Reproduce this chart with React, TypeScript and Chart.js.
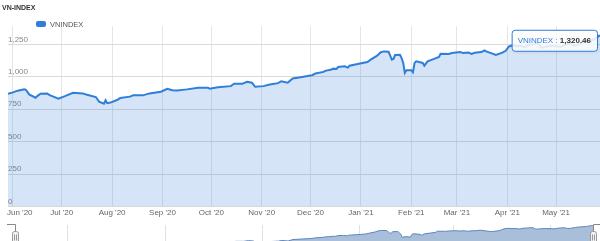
import React, { useEffect, useRef } from 'react';
import { Chart, registerables } from 'chart.js';

Chart.register(...registerables);

const TITLE = 'VN-INDEX';
const SERIES_NAME = 'VNINDEX';
const SERIES_COLOR = '#2f7ed8';
const FONT = "'Liberation Sans', Arial, sans-serif";

const dates = [
  '2020-05-29', '2020-06-01', '2020-06-04', '2020-06-08', '2020-06-09', '2020-06-11', '2020-06-15', '2020-06-16',
  '2020-06-18', '2020-06-22', '2020-06-24', '2020-06-29', '2020-07-03', '2020-07-08', '2020-07-14', '2020-07-16',
  '2020-07-22', '2020-07-24', '2020-07-27', '2020-07-28', '2020-07-29', '2020-07-31', '2020-08-04', '2020-08-06',
  '2020-08-12', '2020-08-14', '2020-08-20', '2020-08-24', '2020-08-31', '2020-09-04', '2020-09-07', '2020-09-10',
  '2020-09-16', '2020-09-23', '2020-09-29', '2020-09-30', '2020-10-05', '2020-10-13', '2020-10-15', '2020-10-20',
  '2020-10-23', '2020-10-26', '2020-10-28', '2020-11-02', '2020-11-06', '2020-11-11', '2020-11-13', '2020-11-17',
  '2020-11-20', '2020-11-25', '2020-11-30', '2020-12-02', '2020-12-04', '2020-12-09', '2020-12-10', '2020-12-14',
  '2020-12-15', '2020-12-17', '2020-12-18', '2020-12-22', '2020-12-24', '2020-12-25', '2020-12-30', '2021-01-05',
  '2021-01-07', '2021-01-11', '2021-01-13', '2021-01-15', '2021-01-18', '2021-01-19', '2021-01-20', '2021-01-21',
  '2021-01-22', '2021-01-25', '2021-01-26', '2021-01-27', '2021-01-28', '2021-01-29', '2021-02-01', '2021-02-02',
  '2021-02-03', '2021-02-04', '2021-02-08', '2021-02-09', '2021-02-11', '2021-02-15', '2021-02-18', '2021-02-19',
  '2021-02-24', '2021-02-26', '2021-03-03', '2021-03-05', '2021-03-08', '2021-03-10', '2021-03-12', '2021-03-16',
  '2021-03-18', '2021-03-19', '2021-03-22', '2021-03-25', '2021-03-29', '2021-03-31', '2021-04-02', '2021-04-05',
  '2021-04-07', '2021-04-09', '2021-04-12', '2021-04-14', '2021-04-16', '2021-04-20', '2021-04-22', '2021-04-26',
  '2021-04-28', '2021-05-04', '2021-05-06', '2021-05-10', '2021-05-12', '2021-05-14', '2021-05-17', '2021-05-19',
  '2021-05-21', '2021-05-24', '2021-05-26', '2021-05-27', '2021-05-28',
];

const values = [
  868, 880, 893, 903, 900, 864, 839, 851,
  870, 871, 857, 832, 851, 877, 872, 864,
  844, 808, 793, 819, 796, 801, 821, 836,
  847, 857, 857, 872, 885, 908, 897, 895,
  903, 916, 916, 908, 920, 928, 946, 946,
  962, 954, 923, 928, 941, 951, 966, 954,
  987, 997, 1008, 1012, 1025, 1038, 1046, 1056,
  1063, 1061, 1076, 1081, 1071, 1086, 1099, 1114,
  1132, 1163, 1188, 1196, 1193, 1163, 1132, 1138,
  1168, 1170, 1145, 1107, 1030, 1050, 1050, 1035,
  1107, 1119, 1107, 1086, 1119, 1138, 1153, 1178,
  1176, 1183, 1191, 1183, 1188, 1176, 1186, 1191,
  1203, 1196, 1183, 1168, 1186, 1201, 1234, 1245,
  1236, 1240, 1228, 1246, 1250, 1260, 1225, 1236,
  1240, 1232, 1248, 1258, 1240, 1245, 1265, 1274,
  1278, 1288, 1300, 1312, 1320.46,
];

const monthTickDates = [
  '2020-06-01', '2020-07-01', '2020-08-01', '2020-09-01', '2020-10-01', '2020-11-01',
  '2020-12-01', '2021-01-01', '2021-02-01', '2021-03-01', '2021-04-01', '2021-05-01',
];
const monthTickLabels = [
  "Jun '20", "Jul '20", "Aug '20", "Sep '20", "Oct '20", "Nov '20",
  "Dec '20", "Jan '21", "Feb '21", "Mar '21", "Apr '21", "May '21",
];
const navigatorTickDates = ['2020-07-01', '2020-09-01', '2020-11-01', '2021-01-01', '2021-03-01', '2021-05-01'];

const Y_TICK_STEP = 250;
const Y_AXIS_MAX = 1392;

const BASE = Date.UTC(2020, 5, 1);
const dayOf = (s: string) => {
  const [y, m, d] = s.split('-').map(Number);
  return (Date.UTC(y, m - 1, d) - BASE) / 86400000;
};

const fmt = (v: number, digits = 0) =>
  v.toLocaleString('en-US', { minimumFractionDigits: digits, maximumFractionDigits: digits });

const headerPlugin = {
  id: 'header',
  afterDraw(chart: any) {
    const ctx = chart.ctx;
    ctx.save();
    ctx.textBaseline = 'middle';
    ctx.textAlign = 'left';
    ctx.fillStyle = '#333';
    ctx.font = `bold 7px ${FONT}`;
    ctx.fillText(TITLE, 2, 8.5);
    const ds = chart.data.datasets[0];
    ctx.fillStyle = ds.borderColor;
    ctx.beginPath();
    (ctx as any).roundRect(36, 21, 10, 6, 2);
    ctx.fill();
    ctx.fillStyle = '#555';
    ctx.font = `7.5px ${FONT}`;
    ctx.fillText(ds.label, 50, 24.5);
    ctx.restore();
  },
};

const firstLabelPlugin = {
  id: 'firstLabel',
  beforeDraw(chart: any) {
    const sc = chart.scales.x;
    const items = sc.getLabelItems();
    if (items && items.length) {
      items[0].options.textAlign = 'left';
      items[0].options.translation[0] = chart.chartArea.left - 1;
    }
  },
};

const tooltipPlugin = {
  id: 'lastTip',
  afterDraw(chart: any) {
    const meta = chart.getDatasetMeta(0);
    const pt = meta.data[meta.data.length - 1];
    if (!pt) return;
    const ctx = chart.ctx;
    const label = `${chart.data.datasets[0].label} : `;
    const valText = fmt(values[values.length - 1], 2);
    ctx.save();
    ctx.font = `8px ${FONT}`;
    const w1 = ctx.measureText(label).width;
    ctx.font = `bold 8px ${FONT}`;
    const w2 = ctx.measureText(valText).width;
    const padX = 6;
    const w = w1 + w2 + padX * 2;
    const h = 21;
    const right = pt.x - 3;
    const left = right - w;
    const top = pt.y - 5.5;
    ctx.shadowColor = 'rgba(0,0,0,0.12)';
    ctx.shadowBlur = 3;
    ctx.shadowOffsetX = 1;
    ctx.shadowOffsetY = 1;
    ctx.beginPath();
    (ctx as any).roundRect(left + 0.5, top + 0.5, w, h, 3);
    ctx.fillStyle = 'rgba(255,255,255,0.85)';
    ctx.fill();
    ctx.shadowColor = 'transparent';
    ctx.strokeStyle = SERIES_COLOR;
    ctx.lineWidth = 1;
    ctx.stroke();
    ctx.textBaseline = 'middle';
    ctx.textAlign = 'left';
    ctx.font = `8px ${FONT}`;
    ctx.fillStyle = SERIES_COLOR;
    ctx.fillText(label, left + padX, top + h / 2 + 0.5);
    ctx.font = `bold 8px ${FONT}`;
    ctx.fillStyle = '#333';
    ctx.fillText(valText, left + padX + w1, top + h / 2 + 0.5);
    ctx.restore();
  },
};

const navHandlesPlugin = {
  id: 'navHandles',
  afterDraw(chart: any) {
    const { left, right, top } = chart.chartArea;
    const ctx = chart.ctx;
    ctx.save();
    ctx.strokeStyle = '#888';
    ctx.lineWidth = 1;
    const yTop = top - 0.5;
    const hTop = yTop + 7;
    ctx.beginPath();
    ctx.moveTo(left - 8, yTop);
    ctx.lineTo(Math.round(left) + 0.5, yTop);
    ctx.lineTo(Math.round(left) + 0.5, hTop);
    ctx.moveTo(chart.width, yTop);
    ctx.lineTo(Math.round(right) + 0.5, yTop);
    ctx.lineTo(Math.round(right) + 0.5, hTop);
    ctx.stroke();
    for (const cx of [Math.round(left) + 0.5, Math.round(right) + 0.5]) {
      ctx.beginPath();
      (ctx as any).roundRect(cx - 3, hTop, 6, 14, 2);
      ctx.fillStyle = '#f2f2f2';
      ctx.fill();
      ctx.strokeStyle = '#999';
      ctx.stroke();
      ctx.beginPath();
      ctx.moveTo(cx - 1, hTop + 3);
      ctx.lineTo(cx - 1, hTop + 9);
      ctx.moveTo(cx + 1, hTop + 3);
      ctx.lineTo(cx + 1, hTop + 9);
      ctx.strokeStyle = '#999';
      ctx.stroke();
    }
    ctx.restore();
  },
};

export default function App() {
  const mainRef = useRef<HTMLCanvasElement | null>(null);
  const navRef = useRef<HTMLCanvasElement | null>(null);

  useEffect(() => {
    const pts = dates.map((d, i) => ({ x: dayOf(d), y: values[i] }));
    const xMin = dayOf(dates[0]);
    const xMax = dayOf(dates[dates.length - 1]);

    const main = new Chart(mainRef.current as HTMLCanvasElement, {
      type: 'line',
      data: {
        datasets: [
          {
            label: SERIES_NAME,
            data: pts,
            borderColor: SERIES_COLOR,
            backgroundColor: 'rgba(47,126,216,0.2)',
            fill: 'origin',
            borderWidth: 2,
            pointRadius: 0,
            tension: 0,
          },
        ],
      },
      options: {
        animation: false,
        responsive: false,
        maintainAspectRatio: false,
        events: [],
        layout: { padding: { top: 26, left: 8, right: 0, bottom: 0 } },
        plugins: { legend: { display: false }, title: { display: false }, tooltip: { enabled: false } },
        scales: {
          x: {
            type: 'linear',
            min: xMin,
            max: xMax,
            afterBuildTicks: (ax: any) => {
              ax.ticks = monthTickDates.map((d) => ({ value: dayOf(d) }));
            },
            afterFit: (ax: any) => {
              ax.paddingLeft = 0;
              ax.paddingRight = 0;
            },
            ticks: {
              autoSkip: false,
              maxRotation: 0,
              padding: 2,
              color: '#666',
              font: { size: 8, family: FONT },
              callback: (_v: any, i: number) => monthTickLabels[i],
            },
            grid: { color: '#e6e6e6', drawTicks: false },
            border: { display: false },
          },
          y: {
            min: 0,
            max: Y_AXIS_MAX,
            afterBuildTicks: (ax: any) => {
              ax.ticks = ax.ticks.filter((t: any) => t.value % Y_TICK_STEP === 0);
            },
            ticks: {
              stepSize: Y_TICK_STEP,
              mirror: true,
              padding: 0,
              labelOffset: -5,
              color: '#888',
              font: { size: 8, family: FONT },
              callback: (v: any) => fmt(Number(v)),
            },
            grid: { color: '#dadada', drawTicks: false },
            border: { display: false },
          },
        },
      },
      plugins: [firstLabelPlugin, headerPlugin, tooltipPlugin],
    } as any);

    const nav = new Chart(navRef.current as HTMLCanvasElement, {
      type: 'line',
      data: {
        datasets: [
          {
            label: SERIES_NAME,
            data: pts,
            borderColor: '#5b86c0',
            backgroundColor: '#a9bed9',
            fill: 'start',
            borderWidth: 1,
            pointRadius: 0,
            tension: 0,
          },
        ],
      },
      options: {
        animation: false,
        responsive: false,
        maintainAspectRatio: false,
        events: [],
        layout: { padding: { top: 3, left: 15, right: 7, bottom: 0 } },
        plugins: { legend: { display: false }, title: { display: false }, tooltip: { enabled: false } },
        scales: {
          x: {
            type: 'linear',
            min: xMin,
            max: xMax,
            afterBuildTicks: (ax: any) => {
              ax.ticks = navigatorTickDates.map((d) => ({ value: dayOf(d) }));
            },
            ticks: { display: false },
            grid: { color: '#e0e0e0', drawTicks: false },
            border: { display: false },
          },
          y: {
            display: false,
            min: Math.min(...values),
            max: Math.max(...values),
          },
        },
      },
      plugins: [navHandlesPlugin],
    } as any);

    return () => {
      main.destroy();
      nav.destroy();
    };
  }, []);

  return (
    <div
      style={{
        position: 'absolute',
        left: 0,
        top: 0,
        width: 600,
        height: 241,
        overflow: 'hidden',
        background: '#fff',
      }}
    >
      <canvas
        ref={navRef}
        width={600}
        height={26}
        style={{ position: 'absolute', left: 0, top: 222, width: 600, height: 26 }}
      />
      <canvas
        ref={mainRef}
        width={600}
        height={220}
        style={{ position: 'absolute', left: 0, top: 0, width: 600, height: 220 }}
      />
    </div>
  );
}
